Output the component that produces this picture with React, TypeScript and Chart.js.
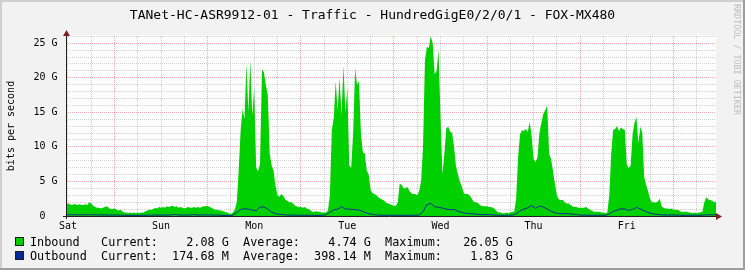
import { useEffect, useRef } from 'react';
import { Chart, registerables } from 'chart.js';

Chart.register(...registerables);

// time axis: hours since Saturday 00:00
const START_HOUR = 11.5;
const END_HOUR = 179;
const INBOUND_STEP = 0.5;
const OUTBOUND_STEP = 1;
const Y_MAX = 26.05;

const xGridHours = [12, 18, 24, 30, 36, 42, 48, 54, 60, 66, 72, 78, 84, 90, 96, 102, 108, 114, 120, 126, 132, 138, 144, 150, 156, 162, 168, 174];
const dayLabelHours = [12, 36, 60, 84, 108, 132, 156];
const dayLabels = ['Sat', 'Sun', 'Mon', 'Tue', 'Wed', 'Thu', 'Fri'];

const yGridValues = [0, 1, 2, 3, 4, 5, 6, 7, 8, 9, 10, 11, 12, 13, 14, 15, 16, 17, 18, 19, 20, 21, 22, 23, 24, 25, 26];
const yLabelValues = [0, 5, 10, 15, 20, 25];
const yLabels = ['0  ', '5 G', '10 G', '15 G', '20 G', '25 G'];

// Inbound, Gbit/s, every 30 min from Sat 11:30
const inbound = [
  1.7, 1.8, 1.7, 1.6, 1.7, 1.7, 1.6, 1.7, 1.6, 1.6, 1.7, 1.6,
  2.0, 1.8, 1.5, 1.3, 1.2, 1.2, 1.1, 1.2, 1.3, 1.4, 1.2, 1.0,
  1.0, 1.1, 0.9, 0.8, 0.9, 0.7, 0.5, 0.5, 0.4, 0.5, 0.4, 0.5,
  0.4, 0.5, 0.4, 0.5, 0.5, 0.7, 0.8, 0.9, 0.9, 1.0, 1.2, 1.1,
  1.3, 1.2, 1.3, 1.2, 1.4, 1.3, 1.4, 1.5, 1.3, 1.4, 1.2, 1.3,
  1.2, 1.1, 1.2, 1.3, 1.2, 1.2, 1.3, 1.2, 1.3, 1.2, 1.3, 1.4,
  1.4, 1.5, 1.3, 1.2, 1.0, 0.9, 0.9, 0.8, 0.8, 0.7, 0.6, 0.5,
  0.4, 0.3, 0.5, 0.9, 2.0, 6.5, 12.3, 15.5, 14.0, 22.0, 15.0, 22.5,
  14.5, 18.5, 7.0, 6.5, 7.5, 21.2, 20.8, 19.0, 17.5, 9.0, 7.3, 6.5,
  4.3, 3.0, 2.8, 3.2, 2.9, 2.4, 2.2, 2.0, 2.0, 1.8, 1.5, 1.4,
  1.3, 1.3, 1.2, 1.3, 1.1, 1.0, 0.8, 0.6, 0.6, 0.7, 0.6, 0.6,
  0.5, 0.5, 0.5, 0.8, 3.0, 12.5, 14.2, 19.5, 15.3, 20.0, 14.5, 21.8,
  15.0, 18.5, 7.3, 7.0, 12.0, 21.4, 19.0, 19.5, 12.0, 9.2, 9.0, 6.6,
  6.0, 3.8, 3.3, 3.2, 3.0, 2.7, 2.5, 2.4, 2.2, 1.9, 1.8, 1.7,
  1.6, 1.5, 1.5, 2.0, 4.7, 4.5, 4.0, 4.0, 4.2, 3.6, 3.3, 3.2,
  3.2, 3.0, 3.6, 5.0, 10.0, 22.5, 24.5, 24.3, 26.05, 25.0, 20.5, 21.0,
  24.0, 14.5, 6.0, 9.0, 12.7, 12.9, 12.2, 12.0, 10.0, 7.2, 6.0, 5.0,
  4.3, 3.3, 3.2, 3.2, 3.0, 2.6, 2.1, 2.0, 1.9, 1.7, 1.5, 1.4,
  1.4, 1.4, 1.3, 1.3, 1.2, 1.0, 0.7, 0.5, 0.5, 0.4, 0.4, 0.5,
  0.4, 0.5, 0.6, 0.6, 2.5, 8.5, 11.8, 12.4, 12.3, 12.6, 12.2, 13.6,
  11.5, 8.2, 7.8, 8.5, 12.0, 13.5, 14.8, 15.3, 16.0, 9.0, 8.2, 6.5,
  4.6, 3.0, 2.4, 2.3, 2.3, 2.0, 1.8, 1.8, 1.6, 1.4, 1.3, 1.3,
  1.2, 1.2, 1.2, 1.2, 1.3, 1.1, 0.9, 0.8, 0.6, 0.6, 0.6, 0.6,
  0.5, 0.5, 0.4, 0.5, 3.0, 9.0, 12.5, 12.6, 13.0, 12.3, 12.8, 12.6,
  12.5, 7.5, 6.9, 7.3, 11.8, 13.5, 14.3, 10.5, 12.9, 12.0, 5.6, 4.5,
  3.6, 2.5, 2.0, 2.0, 1.9, 2.1, 2.5, 1.4, 1.2, 1.1, 1.1, 1.0,
  1.1, 0.9, 0.9, 0.9, 0.8, 0.6, 0.6, 0.6, 0.6, 0.5, 0.5, 0.4,
  0.5, 0.4, 0.5, 0.5, 0.6, 2.0, 2.7, 2.4, 2.3, 2.2, 2.0, 2.08,
];

// Outbound, Gbit/s, every hour from Sat 11:30
const outbound = [
  0.18, 0.18, 0.17, 0.18, 0.17, 0.18, 0.19, 0.17, 0.16, 0.16, 0.15, 0.15,
  0.14, 0.14, 0.12, 0.10, 0.08, 0.10, 0.08, 0.10, 0.10, 0.12, 0.12, 0.13,
  0.13, 0.14, 0.14, 0.15, 0.22, 0.15, 0.14, 0.14, 0.15, 0.20, 0.15, 0.15,
  0.16, 0.15, 0.13, 0.12, 0.10, 0.08, 0.07, 0.12, 0.50, 0.95, 1.05, 1.00,
  0.85, 0.75, 1.30, 1.30, 1.00, 0.55, 0.35, 0.25, 0.20, 0.15, 0.12, 0.12,
  0.10, 0.12, 0.10, 0.10, 0.08, 0.08, 0.10, 0.20, 0.55, 0.90, 1.00, 1.35,
  1.00, 1.00, 0.95, 0.90, 0.80, 0.50, 0.35, 0.22, 0.15, 0.12, 0.10, 0.10,
  0.10, 0.10, 0.10, 0.10, 0.10, 0.12, 0.10, 0.15, 0.60, 1.65, 1.83, 1.35,
  1.25, 1.15, 1.00, 0.90, 0.95, 0.70, 0.50, 0.40, 0.35, 0.30, 0.25, 0.20,
  0.20, 0.20, 0.15, 0.12, 0.10, 0.10, 0.10, 0.12, 0.30, 0.75, 1.00, 1.20,
  1.50, 1.10, 1.45, 1.30, 1.00, 0.70, 0.45, 0.35, 0.35, 0.35, 0.30, 0.25,
  0.15, 0.12, 0.12, 0.10, 0.10, 0.10, 0.10, 0.10, 0.30, 0.65, 0.85, 1.05,
  1.00, 0.80, 0.95, 1.25, 1.00, 0.75, 0.50, 0.35, 0.25, 0.20, 0.15, 0.15,
  0.15, 0.13, 0.12, 0.10, 0.10, 0.10, 0.12, 0.10, 0.12, 0.17, 0.18, 0.17, 0.17,
];

const titleText = 'TANet-HC-ASR9912-01 - Traffic - HundredGigE0/2/0/1 - FOX-MX480';
const yAxisTitle = 'bits per second';
const watermark = 'RRDTOOL / TOBI OETIKER';

const legendNames = ['Inbound', 'Outbound'];
const legendColors = ['#00CF00', '#002A97'];
const legendCurrent = ['2.08 G', '174.68 M'];
const legendAverage = ['4.74 G', '398.14 M'];
const legendMaximum = ['26.05 G', '1.83 G'];

const MONO = '"DejaVu Sans Mono", monospace';
const GRID = 'rgba(143,143,143,0.42)';
const MGRID = 'rgba(222,79,79,0.5)';

const rrdPlugin = {
  id: 'rrdFrame',
  beforeDraw(chart: any) {
    const { ctx, width, height, chartArea } = chart;
    ctx.save();
    ctx.fillStyle = '#F2F2F2';
    ctx.fillRect(0, 0, width, height);
    ctx.fillStyle = '#CFCFCF';
    ctx.fillRect(0, 0, width, 2);
    ctx.fillRect(0, 0, 2, height);
    ctx.fillStyle = '#9E9E9E';
    ctx.fillRect(0, height - 2, width, 2);
    ctx.fillRect(width - 2, 0, 2, height);
    ctx.fillStyle = '#FFFFFF';
    ctx.fillRect(chartArea.left, chartArea.top - 1, chartArea.right - chartArea.left, chartArea.bottom - chartArea.top + 1);
    ctx.restore();
  },
  afterDraw(chart: any) {
    const { ctx, width, chartArea } = chart;
    const { left, right, top, bottom } = chartArea;
    ctx.save();
    ctx.strokeStyle = '#1F1F1F';
    ctx.lineWidth = 1;
    ctx.beginPath();
    ctx.moveTo(left - 3, bottom + 0.5);
    ctx.lineTo(right, bottom + 0.5);
    ctx.moveTo(left + 0.5, bottom + 3);
    ctx.lineTo(left + 0.5, top);
    ctx.stroke();
    ctx.fillStyle = '#801F1F';
    ctx.beginPath();
    ctx.moveTo(right, bottom + 0.5 - 3.5);
    ctx.lineTo(right + 6, bottom + 0.5);
    ctx.lineTo(right, bottom + 0.5 + 3.5);
    ctx.closePath();
    ctx.fill();
    ctx.beginPath();
    ctx.moveTo(left + 0.5 - 3.5, top);
    ctx.lineTo(left + 0.5, top - 6);
    ctx.lineTo(left + 0.5 + 3.5, top);
    ctx.closePath();
    ctx.fill();

    ctx.fillStyle = '#000000';
    ctx.font = `13px ${MONO}`;
    ctx.textAlign = 'center';
    ctx.textBaseline = 'alphabetic';
    ctx.fillText(titleText, width / 2, 18.5);

    ctx.font = `11.8px ${MONO}`;
    ctx.textAlign = 'left';
    for (let r = 0; r < legendNames.length; r++) {
      const base = 246 + r * 14;
      ctx.fillStyle = legendColors[r];
      ctx.fillRect(15, base - 9, 9, 9);
      ctx.strokeStyle = '#1F1F1F';
      ctx.strokeRect(15.5, base - 8.5, 8, 8);
      const line =
        legendNames[r].padEnd(10) +
        'Current:' + legendCurrent[r].padStart(10) + '  ' +
        'Average:' + legendAverage[r].padStart(10) + '  ' +
        'Maximum:' + legendMaximum[r].padStart(10);
      ctx.fillStyle = '#000000';
      ctx.fillText(line, 30, base);
    }

    ctx.save();
    ctx.translate(736, 4);
    ctx.rotate(Math.PI / 2);
    ctx.font = `8.4px ${MONO}`;
    ctx.fillStyle = '#BDBDBD';
    ctx.textAlign = 'left';
    ctx.textBaseline = 'middle';
    ctx.fillText(watermark, 0, 0);
    ctx.restore();

    ctx.restore();
  },
};

export default function App() {
  const ref = useRef<HTMLCanvasElement>(null);
  useEffect(() => {
    const canvas = ref.current;
    if (!canvas) return;
    const inData = inbound.map((v, i) => ({ x: START_HOUR + i * INBOUND_STEP, y: v }));
    const outData = outbound.map((v, i) => ({ x: START_HOUR + i * OUTBOUND_STEP, y: v }));
    const tickFont = { family: MONO, size: 10 };
    const chart = new Chart(canvas, {
      type: 'line',
      data: {
        datasets: [
          {
            label: 'Inbound',
            data: inData,
            fill: 'origin',
            backgroundColor: '#00CF00',
            borderColor: '#00CF00',
            borderWidth: 0,
            pointRadius: 0,
            tension: 0,
            order: 2,
          },
          {
            label: 'Outbound',
            data: outData,
            fill: false,
            borderColor: '#002A97',
            borderWidth: 1,
            pointRadius: 0,
            tension: 0,
            order: 1,
          },
        ],
      },
      options: {
        animation: false,
        responsive: false,
        devicePixelRatio: 1,
        layout: { padding: { left: 0, right: 29, top: 36, bottom: 34 } },
        plugins: { legend: { display: false }, tooltip: { enabled: false }, title: { display: false } },
        scales: {
          x: {
            type: 'linear',
            min: START_HOUR,
            max: END_HOUR,
            afterBuildTicks: (s: any) => {
              s.ticks = xGridHours.map((v) => ({ value: v }));
            },
            afterFit: (s: any) => {
              s.height = 20;
              s.paddingLeft = 0;
              s.paddingRight = 0;
              s.paddingTop = 0;
              s.paddingBottom = 0;
            },
            ticks: {
              autoSkip: false,
              maxRotation: 0,
              minRotation: 0,
              padding: 4,
              color: '#000000',
              font: tickFont,
              callback: (v: any) => {
                const k = dayLabelHours.indexOf(Number(v));
                return k >= 0 ? dayLabels[k] : '';
              },
            },
            grid: {
              drawTicks: false,
              lineWidth: 1,
              color: (c: any) => (c.tick && c.tick.value % 24 === 0 ? MGRID : GRID),
            },
            border: { display: false, dash: [1, 1] },
          },
          y: {
            type: 'linear',
            min: 0,
            max: Y_MAX,
            afterBuildTicks: (s: any) => {
              s.ticks = yGridValues.map((v) => ({ value: v }));
            },
            afterFit: (s: any) => {
              s.width = 66;
              s.paddingLeft = 0;
              s.paddingRight = 0;
              s.paddingTop = 0;
              s.paddingBottom = 0;
            },
            ticks: {
              autoSkip: false,
              padding: 8.5,
              color: '#000000',
              font: tickFont,
              callback: (v: any) => {
                const k = yLabelValues.indexOf(Number(v));
                return k >= 0 ? yLabels[k] : '';
              },
            },
            grid: {
              drawTicks: false,
              lineWidth: 1,
              color: (c: any) => (c.tick && c.tick.value % 5 === 0 ? MGRID : GRID),
            },
            border: { display: false, dash: [1, 1] },
            title: {
              display: true,
              text: yAxisTitle,
              color: '#000000',
              font: { family: MONO, size: 10 },
              padding: { top: 5.5, bottom: 0 },
            },
          },
        },
      },
      plugins: [rrdPlugin],
    } as any);
    return () => chart.destroy();
  }, []);
  return (
    <div style={{ position: 'absolute', left: 0, top: 0, width: 745, height: 270 }}>
      <canvas ref={ref} width={745} height={270} style={{ display: 'block', width: 745, height: 270 }} />
    </div>
  );
}
